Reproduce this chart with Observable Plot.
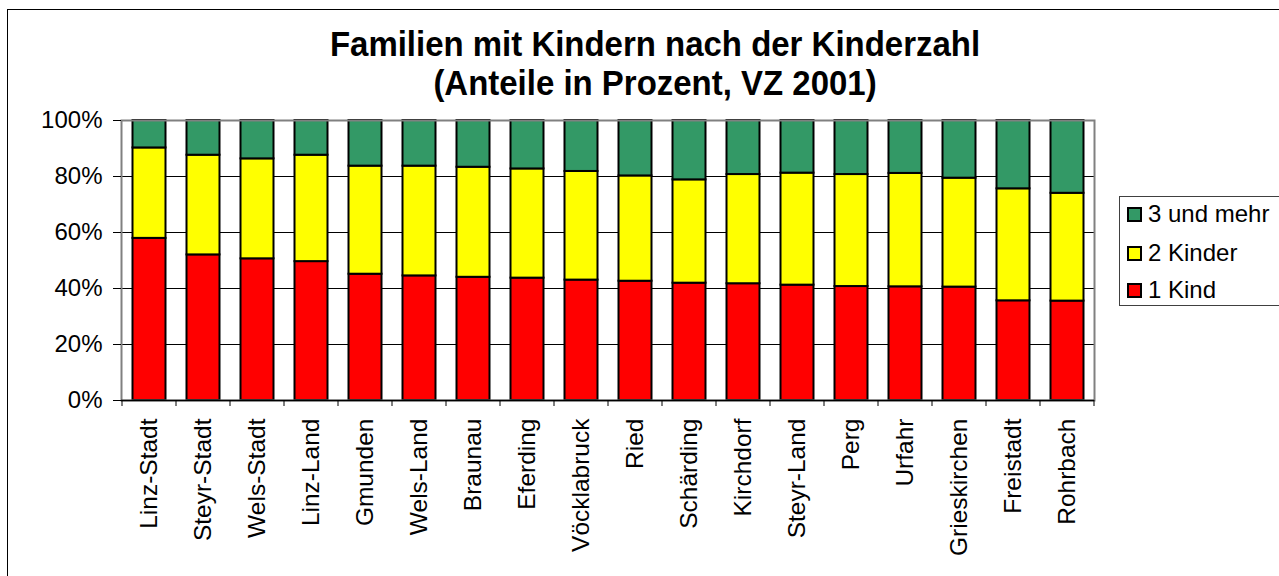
<!DOCTYPE html>
<html>
<head>
<meta charset="utf-8">
<script src="https://cdn.jsdelivr.net/npm/d3@7"></script>
<script src="https://cdn.jsdelivr.net/npm/@observablehq/plot@0.6"></script>
<style>
  html, body { margin: 0; padding: 0; background: #fff; overflow: hidden; }
  body { width: 1279px; height: 576px; position: relative; font-family: Arial, "Liberation Sans", sans-serif; }
  #frame { position: absolute; left: 7px; top: 9px; width: 1400px; height: 700px; border-left: 1px solid #000; border-top: 1px solid #000; }
  #title { position: absolute; left: 0; width: 1310px; top: 25px; text-align: center; font-weight: bold; font-size: 32px; line-height: 36px; color: #000; transform: scale(1.03, 1.08); transform-origin: 655px 0; }
  #chart { position: absolute; left: 0; top: 0; }
  #legend { position: absolute; left: 1119px; top: 196px; width: 200px; height: 108px; border: 1px solid #404040; background: #fff; }
  .item { position: absolute; left: 7px; height: 26px; font-size: 24px; line-height: 26px; color: #000; white-space: nowrap; }
  .sw { position: absolute; left: 0; top: 6px; width: 11px; height: 11px; border: 2px solid #000; }
  .lab { position: absolute; left: 21px; top: 0; }
</style>
</head>
<body>
<div id="frame"></div>
<div id="chart"></div>
<div id="title">Familien mit Kindern nach der Kinderzahl<br>(Anteile in Prozent, VZ 2001)</div>
<div id="legend"></div>
<script>
const categories = ["Linz-Stadt","Steyr-Stadt","Wels-Stadt","Linz-Land","Gmunden","Wels-Land","Braunau","Eferding","Vöcklabruck","Ried","Schärding","Kirchdorf","Steyr-Land","Perg","Urfahr","Grieskirchen","Freistadt","Rohrbach"];
const kind1  = [57.9, 52.0, 50.6, 49.6, 45.1, 44.5, 44.0, 43.7, 43.0, 42.6, 41.9, 41.7, 41.2, 40.7, 40.6, 40.5, 35.6, 35.5];
const kind2  = [32.3, 35.6, 35.7, 38.0, 38.6, 39.2, 39.3, 39.0, 38.8, 37.6, 36.9, 39.0, 40.0, 40.0, 40.5, 38.9, 40.0, 38.5];
const kind3  = [ 9.8, 12.4, 13.7, 12.4, 16.3, 16.3, 16.7, 17.3, 18.2, 19.8, 21.2, 19.3, 18.8, 19.3, 18.9, 20.6, 24.4, 26.0];
const seriesNames = ["1 Kind", "2 Kinder", "3 und mehr"];
const seriesColors = ["#ff0000", "#ffff00", "#339966"];
const yTicks = [0, 20, 40, 60, 80, 100];
const gridValues = [20, 40, 60, 80];

const seriesValues = [kind1, kind2, kind3];
const data = [];
categories.forEach((c, i) => {
  seriesNames.forEach((s, j) => data.push({region: c, series: s, value: seriesValues[j][i]}));
});

const boundaryTicks = Plot.ruleY([0], {
  render(index, scales, values, dimensions) {
    const x = scales.x, y = scales.y;
    const step = x(categories[1]) - x(categories[0]);
    const xs = categories.map(c => x(c)).concat([x(categories[categories.length - 1]) + step]);
    const y0 = y(0);
    const g = d3.create("svg:g").attr("stroke", "#000").attr("stroke-width", 1);
    xs.forEach(px => g.append("line").attr("x1", px).attr("x2", px).attr("y1", y0).attr("y2", y0 + 6));
    return g.node();
  }
});

const chart = Plot.plot({
  width: 1279,
  height: 576,
  marginTop: 120,
  marginLeft: 121,
  marginRight: 185,
  marginBottom: 176,
  style: {fontFamily: "Arial, 'Liberation Sans', sans-serif", background: "transparent", color: "#000"},
  x: {domain: categories, padding: 0},
  y: {domain: [0, 100]},
  color: {domain: seriesNames, range: seriesColors},
  marks: [
    Plot.ruleY(gridValues, {stroke: "#000", strokeWidth: 1}),
    Plot.barY(data, {x: "region", y: "value", fill: "series", stroke: "#000", strokeWidth: 2, insetLeft: 10.5, insetRight: 10.5}),
    Plot.frame({stroke: "#808080", strokeWidth: 2}),
    Plot.ruleY([0], {stroke: "#000", strokeWidth: 1.5}),
    boundaryTicks,
    Plot.axisY({ticks: yTicks, tickFormat: d => d + "%", tickSize: 8, tickPadding: 11, fontSize: 24, label: null, stroke: "#000"}),
    Plot.axisX({tickSize: 0, tickRotate: -90, tickPadding: 18, fontSize: 24.5, label: null})
  ]
});
document.getElementById("chart").appendChild(chart);

const legend = document.getElementById("legend");
const order = [2, 1, 0];
const rowCenters = [17, 56, 93];
order.forEach((j, k) => {
  const it = document.createElement("div");
  it.className = "item";
  it.style.top = (rowCenters[k] - 13) + "px";
  const sw = document.createElement("div");
  sw.className = "sw";
  sw.style.background = seriesColors[j];
  const lab = document.createElement("div");
  lab.className = "lab";
  lab.textContent = seriesNames[j];
  it.appendChild(sw); it.appendChild(lab);
  legend.appendChild(it);
});
</script>
</body>
</html>
